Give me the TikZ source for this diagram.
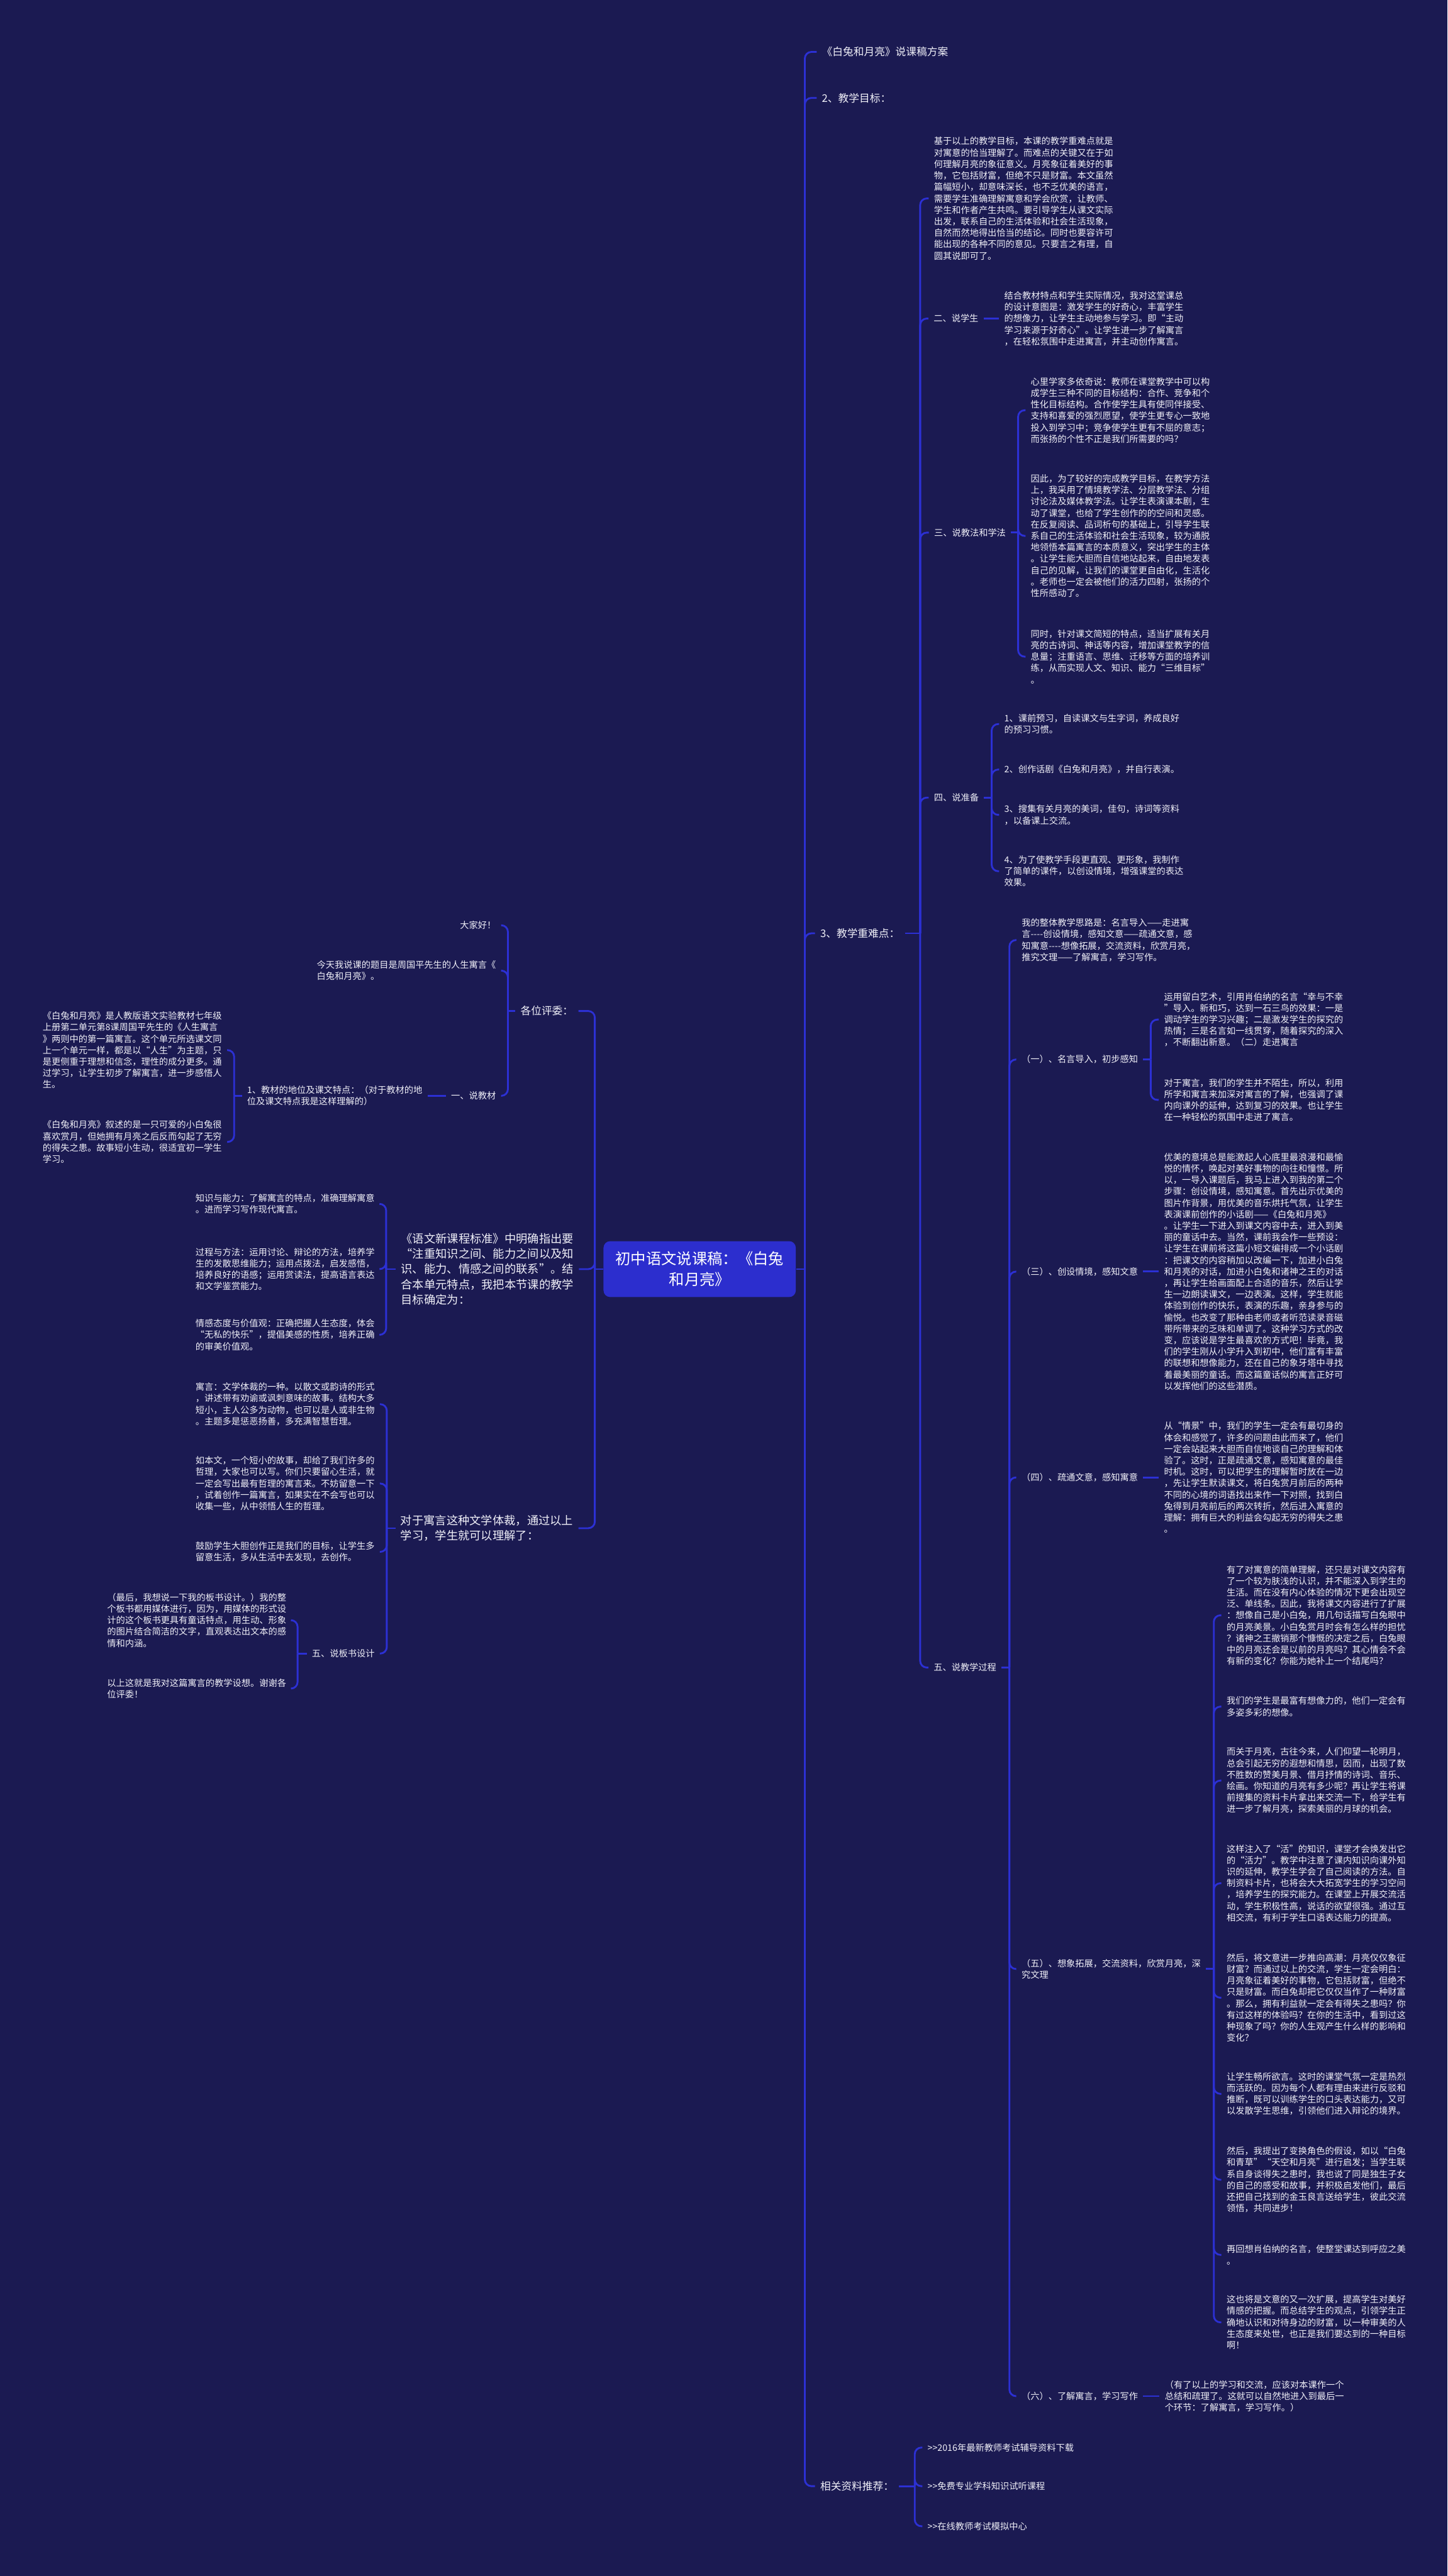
\documentclass[tikz,border=0pt]{standalone}
\usepackage{fontspec}
\newfontfamily\cjkfont{Noto Sans CJK SC}

\definecolor{mapbg}{RGB}{27,26,82}
\definecolor{mapwire}{RGB}{44,48,212}
\definecolor{maproot}{RGB}{44,46,206}
\definecolor{maptext}{RGB}{240,240,248}

\newcommand\mapbody{\cjkfont\fontsize{5.45}{6.97}\selectfont}
\newcommand\maphead{\cjkfont\fontsize{6.4}{8}\selectfont}
\newcommand\mapmid{\cjkfont\fontsize{7}{9.35}\selectfont}
\newcommand\maproottext{\cjkfont\fontsize{9.3}{12.8}\selectfont}

\tikzset{
  leafnode/.style={inner xsep=3pt, inner ysep=0pt, align=left, text=maptext, font=\mapbody},
  leafR/.style={leafnode, anchor=west},
  leafL/.style={leafnode, anchor=east},
  toplabel/.style={font=\maphead},
  midlabel/.style={font=\mapmid},
  wire/.style={draw=mapwire, line width=1.1pt, rounded corners=4pt},
  rootbox/.style={fill=maproot, rounded corners=4pt, text=white, font=\maproottext,
    align=center, minimum width=117pt, minimum height=34pt, inner sep=0pt}
}

\begin{document}
\begin{tikzpicture}[x=1pt, y=-1pt]

    % ============================================================
    % CANVAS
    % ============================================================
    \fill[mapbg] (0,0) rectangle (881,1568);
    \useasboundingbox (0,0) rectangle (881,1568);

    % ============================================================
    % ROOT
    % ============================================================
    \node[rootbox] (root) at (425.8,772.5) {初中语文说课稿：《白兔\\和月亮》};

    % ============================================================
    % RIGHT TRUNK
    % ============================================================
    \node[leafR, toplabel] (title) at (497,31.6) {《白兔和月亮》说课稿方案};
    \node[leafR, toplabel] (goal) at (497,59.6) {2、教学目标：};
    \node[leafR, toplabel] (keypt) at (496,568.1) {3、教学重难点：};
    \node[leafR, toplabel] (refs) at (496,1513.3) {相关资料推荐：};

    % ============================================================
    % 3 - KEY POINTS
    % ============================================================
    \node[leafR] (blkA) at (565.2,120.8)
        {基于以上的教学目标，本课的教学重难点就是\\对寓意的恰当理解了。而难点的关键又在于如\\何理解月亮的象征意义。月亮象征着美好的事\\物，它包括财富，但绝不只是财富。本文虽然\\篇幅短小，却意味深长，也不乏优美的语言，\\需要学生准确理解寓意和学会欣赏，让教师、\\学生和作者产生共鸣。要引导学生从课文实际\\出发，联系自己的生活体验和社会生活现象，\\自然而然地得出恰当的结论。同时也要容许可\\能出现的各种不同的意见。只要言之有理，自\\圆其说即可了。};
    \node[leafR] (learner) at (565,193.9) {二、说学生};
    \node[leafR] (blkB) at (608,193.9)
        {结合教材特点和学生实际情况，我对这堂课总\\的设计意图是：激发学生的好奇心，丰富学生\\的想像力，让学生主动地参与学习。即“主动\\学习来源于好奇心”。让学生进一步了解寓言\\，在轻松氛围中走进寓言，并主动创作寓言。};
    \node[leafR] (method) at (565.3,324.2) {三、说教法和学法};
    \node[leafR] (blkC) at (624.1,249.7)
        {心里学家多依奇说：教师在课堂教学中可以构\\成学生三种不同的目标结构：合作、竞争和个\\性化目标结构。合作使学生具有使同伴接受、\\支持和喜爱的强烈愿望，使学生更专心一致地\\投入到学习中；竞争使学生更有不屈的意志；\\而张扬的个性不正是我们所需要的吗？};
    \node[leafR] (blkD) at (624.1,326.2)
        {因此，为了较好的完成教学目标，在教学方法\\上，我采用了情境教学法、分层教学法、分组\\讨论法及媒体教学法。让学生表演课本剧，生\\动了课堂，也给了学生创作的的空间和灵感。\\在反复阅读、品词析句的基础上，引导学生联\\系自己的生活体验和社会生活现象，较为通脱\\地领悟本篇寓言的本质意义，突出学生的主体\\。让学生能大胆而自信地站起来，自由地发表\\自己的见解，让我们的课堂更自由化，生活化\\。老师也一定会被他们的活力四射，张扬的个\\性所感动了。};
    \node[leafR] (blkE) at (624.1,399.7)
        {同时，针对课文简短的特点，适当扩展有关月\\亮的古诗词、神话等内容，增加课堂教学的信\\息量；注重语言、思维、迁移等方面的培养训\\练，从而实现人文、知识、能力“三维目标”\\。};
    \node[leafR] (prep) at (565.2,485.5) {四、说准备};
    \node[leafR] (prep1) at (608,440.7) {1、课前预习，自读课文与生字词，养成良好\\的预习习惯。};
    \node[leafR] (prep2) at (608,468.4) {2、创作话剧《白兔和月亮》，并自行表演。};
    \node[leafR] (prep3) at (608,496) {3、搜集有关月亮的美词，佳句，诗词等资料\\，以备课上交流。};
    \node[leafR] (prep4) at (608,530.3) {4、为了使教学手段更直观、更形象，我制作\\了简单的课件，以创设情境，增强课堂的表达\\效果。};

    % ============================================================
    % 5 - TEACHING PROCESS
    % ============================================================
    \node[leafR] (process) at (565,1015) {五、说教学过程};
    \node[leafR] (blkG) at (618.6,572.2)
        {我的整体教学思路是：名言导入——走进寓\\言----创设情境，感知文意——疏通文意，感\\知寓意----想像拓展，交流资料，欣赏月亮，\\推究文理——了解寓言，学习写作。};
    \node[leafR] (stepA) at (618.5,644.9) {（一）、名言导入，初步感知};
    \node[leafR] (blkH) at (705.2,620.6)
        {运用留白艺术，引用肖伯纳的名言“幸与不幸\\”导入。新和巧，达到一石三鸟的效果：一是\\调动学生的学习兴趣；二是激发学生的探究的\\热情；三是名言如一线贯穿，随着探究的深入\\，不断翻出新意。（二）走进寓言};
    \node[leafR] (blkI) at (705.2,669.5)
        {对于寓言，我们的学生并不陌生，所以，利用\\所学和寓言来加深对寓言的了解，也强调了课\\内向课外的延伸，达到复习的效果。也让学生\\在一种轻松的氛围中走进了寓言。};
    \node[leafR] (stepC) at (618.5,774) {（三）、创设情境，感知文意};
    \node[leafR] (blkJ) at (705.2,774)
        {优美的意境总是能激起人心底里最浪漫和最愉\\悦的情怀，唤起对美好事物的向往和憧憬。所\\以，一导入课题后，我马上进入到我的第二个\\步骤：创设情境，感知寓意。首先出示优美的\\图片作背景，用优美的音乐烘托气氛，让学生\\表演课前创作的小话剧——《白兔和月亮》\\。让学生一下进入到课文内容中去，进入到美\\丽的童话中去。当然，课前我会作一些预设：\\让学生在课前将这篇小短文编排成一个小话剧\\：把课文的内容稍加以改编一下，加进小白兔\\和月亮的对话，加进小白兔和诸神之王的对话\\，再让学生给画面配上合适的音乐，然后让学\\生一边朗读课文，一边表演。这样，学生就能\\体验到创作的快乐，表演的乐趣，亲身参与的\\愉悦。也改变了那种由老师或者听范读录音磁\\带所带来的乏味和单调了。这种学习方式的改\\变，应该说是学生最喜欢的方式吧！毕竟，我\\们的学生刚从小学升入到初中，他们富有丰富\\的联想和想像能力，还在自己的象牙塔中寻找\\着最美丽的童话。而这篇童话似的寓言正好可\\以发挥他们的这些潜质。};
    \node[leafR] (stepD) at (618.5,899.3) {（四）、疏通文意，感知寓意};
    \node[leafR] (blkK) at (705.2,899.3)
        {从“情景”中，我们的学生一定会有最切身的\\体会和感觉了，许多的问题由此而来了，他们\\一定会站起来大胆而自信地谈自己的理解和体\\验了。这时，正是疏通文意，感知寓意的最佳\\时机。这时，可以把学生的理解暂时放在一边\\，先让学生默读课文，将白兔赏月前后的两种\\不同的心境的词语找出来作一下对照，找到白\\兔得到月亮前后的两次转折，然后进入寓意的\\理解：拥有巨大的利益会勾起无穷的得失之患\\。};
    \node[leafR] (stepE) at (618.5,1198.5) {（五）、想象拓展，交流资料，欣赏月亮，深\\究文理};
    \node[leafR] (ideaA) at (743.3,983.2)
        {有了对寓意的简单理解，还只是对课文内容有\\了一个较为肤浅的认识，并不能深入到学生的\\生活。而在没有内心体验的情况下更会出现空\\泛、单线条。因此，我将课文内容进行了扩展\\：想像自己是小白兔，用几句话描写白兔眼中\\的月亮美景。小白兔赏月时会有怎么样的担忧\\？诸神之王撤销那个慷慨的决定之后，白兔眼\\中的月亮还会是以前的月亮吗？其心情会不会\\有新的变化？你能为她补上一个结尾吗？};
    \node[leafR] (ideaB) at (743.3,1038.8)
        {我们的学生是最富有想像力的，他们一定会有\\多姿多彩的想像。};
    \node[leafR] (ideaC) at (743.3,1083.8)
        {而关于月亮，古往今来，人们仰望一轮明月，\\总会引起无穷的遐想和情思，因而，出现了数\\不胜数的赞美月景、借月抒情的诗词、音乐、\\绘画。你知道的月亮有多少呢？再让学生将课\\前搜集的资料卡片拿出来交流一下，给学生有\\进一步了解月亮，探索美丽的月球的机会。};
    \node[leafR] (ideaD) at (743.3,1146.3)
        {这样注入了“活”的知识，课堂才会焕发出它\\的“活力”。教学中注意了课内知识向课外知\\识的延伸，教学生学会了自己阅读的方法。自\\制资料卡片，也将会大大拓宽学生的学习空间\\，培养学生的探究能力。在课堂上开展交流活\\动，学生积极性高，说话的欲望很强。通过互\\相交流，有利于学生口语表达能力的提高。};
    \node[leafR] (ideaE) at (743.3,1216)
        {然后，将文意进一步推向高潮：月亮仅仅象征\\财富？而通过以上的交流，学生一定会明白：\\月亮象征着美好的事物，它包括财富，但绝不\\只是财富。而白兔却把它仅仅当作了一种财富\\。那么，拥有利益就一定会有得失之患吗？你\\有过这样的体验吗？在你的生活中，看到过这\\种现象了吗？你的人生观产生什么样的影响和\\变化？};
    \node[leafR] (ideaF) at (743.3,1274.5)
        {让学生畅所欲言。这时的课堂气氛一定是热烈\\而活跃的。因为每个人都有理由来进行反驳和\\推断，既可以训练学生的口头表达能力，又可\\以发散学生思维，引领他们进入辩论的境界。};
    \node[leafR] (ideaG) at (743.3,1326.8)
        {然后，我提出了变换角色的假设，如以“白兔\\和青草”“天空和月亮”进行启发；当学生联\\系自身谈得失之患时，我也说了同是独生子女\\的自己的感受和故事，并积极启发他们，最后\\还把自己找到的金玉良言送给学生，彼此交流\\领悟，共同进步！};
    \node[leafR] (ideaH) at (743.3,1372.5)
        {再回想肖伯纳的名言，使整堂课达到呼应之美\\。};
    \node[leafR] (ideaI) at (743.3,1413.6)
        {这也将是文意的又一次扩展，提高学生对美好\\情感的把握。而总结学生的观点，引领学生正\\确地认识和对待身边的财富，以一种审美的人\\生态度来处世，也正是我们要达到的一种目标\\啊！};
    \node[leafR] (stepF) at (618.5,1458.5) {（六）、了解寓言，学习写作};
    \node[leafR] (blkM) at (705.7,1458.5)
        {（有了以上的学习和交流，应该对本课作一个\\总结和疏理了。这就可以自然地进入到最后一\\个环节：了解寓言，学习写作。）};

    % ============================================================
    % LINKS
    % ============================================================
    \node[leafR] (link1) at (561.3,1489.8) {>>2016年最新教师考试辅导资料下载};
    \node[leafR] (link2) at (561.3,1513.3) {>>免费专业学科知识试听课程};
    \node[leafR] (link3) at (561.3,1537.7) {>>在线教师考试模拟中心};

    % ============================================================
    % LEFT SIDE - OPENING
    % ============================================================
    \node[leafL, toplabel] (judges) at (352,615.4) {各位评委：};
    \node[leafL] (hello) at (305,563.2) {大家好！};
    \node[leafL] (today) at (305,590.8) {今天我说课的题目是周国平先生的人生寓言《\\白兔和月亮》。};
    \node[leafL] (textbook) at (305,667) {一、说教材};
    \node[leafL] (position) at (260.2,667) {1、教材的地位及课文特点：（对于教材的地\\位及课文特点我是这样理解的）};
    \node[leafL] (posA) at (138.2,639.2)
        {《白兔和月亮》是人教版语文实验教材七年级\\上册第二单元第8课周国平先生的《人生寓言\\》两则中的第一篇寓言。这个单元所选课文同\\上一个单元一样，都是以“人生”为主题，只\\是更侧重于理想和信念，理性的成分更多。通\\过学习，让学生初步了解寓言，进一步感悟人\\生。};
    \node[leafL] (posB) at (138.2,695.1)
        {《白兔和月亮》叙述的是一只可爱的小白兔很\\喜欢赏月，但她拥有月亮之后反而勾起了无穷\\的得失之患。故事短小生动，很适宜初一学生\\学习。};

    % ============================================================
    % LEFT SIDE - TEACHING GOALS
    % ============================================================
    \node[leafL, midlabel] (standard) at (352.3,772.5)
        {《语文新课程标准》中明确指出要\\“注重知识之间、能力之间以及知\\识、能力、情感之间的联系”。结\\合本单元特点，我把本节课的教学\\目标确定为：};
    \node[leafL] (know) at (231.2,732.8) {知识与能力：了解寓言的特点，准确理解寓意\\。进而学习写作现代寓言。};
    \node[leafL] (proc) at (231.2,772.5) {过程与方法：运用讨论、辩论的方法，培养学\\生的发散思维能力；运用点拨法，启发感悟，\\培养良好的语感；运用赏读法，提高语言表达\\和文学鉴赏能力。};
    \node[leafL] (emot) at (231.2,812.5) {情感态度与价值观：正确把握人生态度，体会\\“无私的快乐”，提倡美感的性质，培养正确\\的审美价值观。};

    % ============================================================
    % LEFT SIDE - FABLE
    % ============================================================
    \node[leafL, midlabel] (fable) at (352,930.2) {对于寓言这种文学体裁，通过以上\\学习，学生就可以理解了：};
    \node[leafL] (genre) at (231.2,854.7) {寓言：文学体裁的一种。以散文或韵诗的形式\\，讲述带有劝谕或讽刺意味的故事。结构大多\\短小，主人公多为动物，也可以是人或非生物\\。主题多是惩恶扬善，多充满智慧哲理。};
    \node[leafL] (sample) at (231.2,903) {如本文，一个短小的故事，却给了我们许多的\\哲理，大家也可以写。你们只要留心生活，就\\一定会写出最有哲理的寓言来。不妨留意一下\\，试着创作一篇寓言，如果实在不会写也可以\\收集一些，从中领悟人生的哲理。};
    \node[leafL] (cheer) at (231.2,944.6) {鼓励学生大胆创作正是我们的目标，让学生多\\留意生活，多从生活中去发现，去创作。};
    \node[leafL] (board) at (231.2,1006.5) {五、说板书设计};
    \node[leafL] (boardA) at (177.4,986.2) {（最后，我想说一下我的板书设计。）我的整\\个板书都用媒体进行，因为，用媒体的形式设\\计的这个板书更具有童话特点，用生动、形象\\的图片结合简洁的文字，直观表达出文本的感\\情和内涵。};
    \node[leafL] (boardB) at (177.4,1027.8) {以上这就是我对这篇寓言的教学设想。谢谢各\\位评委！};

    % ============================================================
    % JUNCTIONS
    % ============================================================
    \coordinate (rootR) at (489.8,772.5);
    \coordinate (keyptJ) at (560,568.1);
    \coordinate (methodJ) at (619.6,324.2);
    \coordinate (prepJ) at (603.5,485.5);
    \coordinate (processJ) at (614.3,1015);
    \coordinate (stepAJ) at (700.3,644.9);
    \coordinate (stepEJ) at (738.7,1198.5);
    \coordinate (refsJ) at (556.7,1513.3);
    \coordinate (rootL) at (362,772.5);
    \coordinate (judgesJ) at (309.1,615.4);
    \coordinate (positionJ) at (142.5,667);
    \coordinate (standardJ) at (235,772.5);
    \coordinate (fableJ) at (235.4,930.2);
    \coordinate (boardJ) at (181.1,1006.5);

    % ============================================================
    % CONNECTORS - RIGHT
    % ============================================================
    \draw[wire] (root.east) -- (rootR);
    \foreach \n in {title,goal,keypt,refs}
        \draw[wire] (rootR) |- (\n.west);

    \draw[wire] (keypt.east) -- (keyptJ);
    \foreach \n in {blkA,learner,method,prep,process}
        \draw[wire] (keyptJ) |- (\n.west);
    \draw[wire] (learner.east) -- (blkB.west);

    \draw[wire] (method.east) -- (methodJ);
    \foreach \n in {blkC,blkD,blkE}
        \draw[wire] (methodJ) |- (\n.west);

    \draw[wire] (prep.east) -- (prepJ);
    \foreach \n in {prep1,prep2,prep3,prep4}
        \draw[wire] (prepJ) |- (\n.west);

    \draw[wire] (process.east) -- (processJ);
    \foreach \n in {blkG,stepA,stepC,stepD,stepE,stepF}
        \draw[wire] (processJ) |- (\n.west);

    \draw[wire] (stepA.east) -- (stepAJ);
    \foreach \n in {blkH,blkI}
        \draw[wire] (stepAJ) |- (\n.west);
    \draw[wire] (stepC.east) -- (blkJ.west);
    \draw[wire] (stepD.east) -- (blkK.west);

    \draw[wire] (stepE.east) -- (stepEJ);
    \foreach \n in {ideaA,ideaB,ideaC,ideaD,ideaE,ideaF,ideaG,ideaH,ideaI}
        \draw[wire] (stepEJ) |- (\n.west);
    \draw[wire] (stepF.east) -- (blkM.west);

    \draw[wire] (refs.east) -- (refsJ);
    \foreach \n in {link1,link2,link3}
        \draw[wire] (refsJ) |- (\n.west);

    % ============================================================
    % CONNECTORS - LEFT
    % ============================================================
    \draw[wire] (root.west) -- (rootL);
    \foreach \n in {judges,standard,fable}
        \draw[wire] (rootL) |- (\n.east);

    \draw[wire] (judges.west) -- (judgesJ);
    \foreach \n in {hello,today,textbook}
        \draw[wire] (judgesJ) |- (\n.east);
    \draw[wire] (textbook.west) -- (position.east);

    \draw[wire] (position.west) -- (positionJ);
    \foreach \n in {posA,posB}
        \draw[wire] (positionJ) |- (\n.east);

    \draw[wire] (standard.west) -- (standardJ);
    \foreach \n in {know,proc,emot}
        \draw[wire] (standardJ) |- (\n.east);

    \draw[wire] (fable.west) -- (fableJ);
    \foreach \n in {genre,sample,cheer,board}
        \draw[wire] (fableJ) |- (\n.east);

    \draw[wire] (board.west) -- (boardJ);
    \foreach \n in {boardA,boardB}
        \draw[wire] (boardJ) |- (\n.east);

\end{tikzpicture}
\end{document}
